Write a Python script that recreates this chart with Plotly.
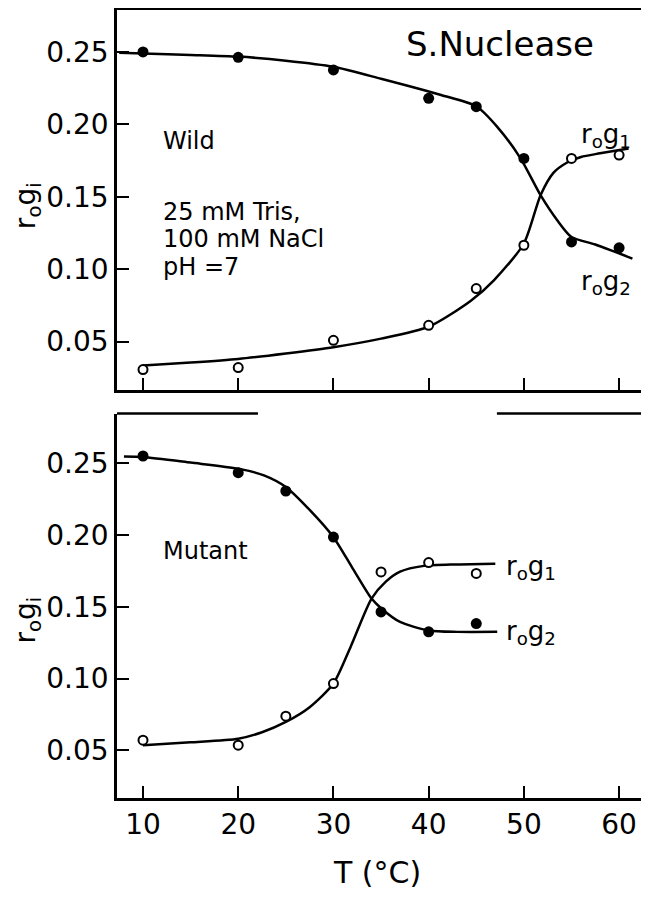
import plotly.graph_objects as go

# ---------------- data ----------------
temps_wild = [10, 20, 30, 40, 45, 50, 55, 60]
wild_g2 = [0.250, 0.2463, 0.2376, 0.218, 0.2122, 0.1765, 0.1188, 0.1147]   # filled
wild_g1 = [0.0306, 0.032, 0.0508, 0.0612, 0.0866, 0.1165, 0.1765, 0.1788]  # open

temps_mut = [10, 20, 25, 30, 35, 40, 45]
mut_g2 = [0.2551, 0.2435, 0.2307, 0.1986, 0.1464, 0.1325, 0.1383]          # filled
mut_g1 = [0.057, 0.0535, 0.0737, 0.0965, 0.1743, 0.1808, 0.1732]           # open

# fitted curves
wild_fit_g2_x = [7.5, 10, 15, 20, 25, 30, 35, 41.3, 45, 47.2, 49.65, 51.75, 53.5, 55, 57.5, 61.4]
wild_fit_g2_y = [0.2495, 0.249, 0.248, 0.2468, 0.2440, 0.2398, 0.2315, 0.2203, 0.2125, 0.1983, 0.1765, 0.1511, 0.1338, 0.1222, 0.117, 0.1073]
wild_fit_g1_x = [10, 15, 20, 25, 30, 35, 40, 44.4, 46.85, 50, 51.75, 53.1, 54.5, 56, 58, 61]
wild_fit_g1_y = [0.0334, 0.0355, 0.038, 0.0418, 0.0461, 0.052, 0.0602, 0.078, 0.0923, 0.1177, 0.1511, 0.1665, 0.1735, 0.1775, 0.180, 0.1834]

mut_fit_g2_x = [8, 10, 15, 20, 22.7, 25, 27.5, 30, 32, 34, 35, 37, 40, 43, 47.2]
mut_fit_g2_y = [0.2548, 0.2544, 0.2505, 0.2463, 0.2416, 0.2335, 0.2175, 0.1985, 0.177, 0.1557, 0.149, 0.1394, 0.1335, 0.1325, 0.1325]
mut_fit_g1_x = [10, 15, 20, 22.5, 25, 27.5, 30, 31.8, 34, 35.5, 37, 39.5, 43, 47]
mut_fit_g1_y = [0.0535, 0.0555, 0.058, 0.0625, 0.0697, 0.080, 0.0965, 0.122, 0.1557, 0.1675, 0.1745, 0.1785, 0.1795, 0.180]

x_ticks = [10, 20, 30, 40, 50, 60]
y_ticks = [0.05, 0.10, 0.15, 0.20, 0.25]
y_ticktext = ["0.05", "0.10", "0.15", "0.20", "0.25"]

FONT = "DejaVu Sans"
BLACK = "black"

fig = go.Figure()

def add_panel(xa, ya, fx1, fy1, fx2, fy2, px, p_filled, p_open):
    for fx, fy in [(fx1, fy1), (fx2, fy2)]:
        fig.add_trace(go.Scatter(x=fx, y=fy, mode="lines",
                                 line=dict(color=BLACK, width=2.5, shape="spline", smoothing=0.7),
                                 xaxis=xa, yaxis=ya, showlegend=False, hoverinfo="skip"))
    fig.add_trace(go.Scatter(x=px, y=p_filled, mode="markers",
                             marker=dict(symbol="circle", size=11, color=BLACK),
                             xaxis=xa, yaxis=ya, showlegend=False))
    fig.add_trace(go.Scatter(x=px, y=p_open, mode="markers",
                             marker=dict(symbol="circle", size=9, color="white",
                                         line=dict(color=BLACK, width=2)),
                             xaxis=xa, yaxis=ya, showlegend=False))

add_panel("x", "y", wild_fit_g2_x, wild_fit_g2_y, wild_fit_g1_x, wild_fit_g1_y, temps_wild, wild_g2, wild_g1)
add_panel("x2", "y2", mut_fit_g2_x, mut_fit_g2_y, mut_fit_g1_x, mut_fit_g1_y, temps_mut, mut_g2, mut_g1)

common_x = dict(range=[7.27, 62.3], tickvals=x_ticks, ticks="inside", ticklen=12, tickwidth=2,
                tickcolor=BLACK, showline=True, linewidth=2.5, linecolor=BLACK, showgrid=False,
                zeroline=False, automargin=False, tickfont=dict(family=FONT, size=28, color=BLACK))
common_y = dict(tickvals=y_ticks, ticktext=y_ticktext, ticks="inside", ticklen=12, tickwidth=2,
                tickcolor=BLACK, showline=True, linewidth=2.5, linecolor=BLACK, showgrid=False,
                zeroline=False, mirror=True, automargin=False,
                tickfont=dict(family=FONT, size=28, color=BLACK))

# the page body adds an 8px offset, so the figure is 8px smaller and margins compensate
fig.update_layout(
    width=641, height=892,
    margin=dict(l=109, r=8, t=2, b=102),
    paper_bgcolor="white", plot_bgcolor="white",
    xaxis=dict(domain=[0, 1], anchor="y", showticklabels=False, mirror=True, **common_x),
    yaxis=dict(domain=[0.5183, 1], anchor="x", range=[0.0168, 0.2790], **common_y),
    xaxis2=dict(domain=[0, 1], anchor="y2", showticklabels=True, mirror=False, **common_x),
    yaxis2=dict(domain=[0, 0.4879], anchor="x2", range=[0.0167, 0.2847], **common_y),
    font=dict(family=FONT, color=BLACK),
)

# broken top frame of lower panel
for x0, x1 in [(0, 0.269), (0.725, 1)]:
    fig.add_shape(type="line", xref="x2 domain", yref="y2 domain", x0=x0, x1=x1, y0=1, y1=1,
                  line=dict(color=BLACK, width=2.5))

ann = []
def t(text, x, y, xref, yref, size, xanchor="left", yanchor="middle", angle=0):
    ann.append(dict(text=text, x=x, y=y, xref=xref, yref=yref, showarrow=False, xanchor=xanchor,
                    yanchor=yanchor, textangle=angle, align="left", borderpad=0,
                    font=dict(family=FONT, size=size, color=BLACK)))

t("S.Nuclease", 47.5, 0.2555, "x", "y", 34, xanchor="center")
t("Wild", 12.0, 0.1885, "x", "y", 24)
t("25 mM Tris,", 12.0, 0.1393, "x", "y", 24)
t("100 mM NaCl", 12.0, 0.1205, "x", "y", 24)
t("pH =7", 12.0, 0.1013, "x", "y", 24)
t("r<sub>o</sub>g<sub>1</sub>", 55.9, 0.1926, "x", "y", 26)
t("r<sub>o</sub>g<sub>2</sub>", 55.9, 0.091, "x", "y", 26)
t("Mutant", 12.0, 0.1887, "x2", "y2", 24)
t("r<sub>o</sub>g<sub>1</sub>", 48.0, 0.1775, "x2", "y2", 26)
t("r<sub>o</sub>g<sub>2</sub>", 48.0, 0.1322, "x2", "y2", 26)
t("T (°C)", 0.496, -0.0951, "paper", "paper", 30, xanchor="center")
t("r<sub>o</sub>g<sub>i</sub>", -0.171, 0.7516, "paper", "paper", 28, xanchor="center", angle=-90)
t("r<sub>o</sub>g<sub>i</sub>", -0.171, 0.2256, "paper", "paper", 28, xanchor="center", angle=-90)
fig.update_layout(annotations=ann)

fig.write_html("out.html")
